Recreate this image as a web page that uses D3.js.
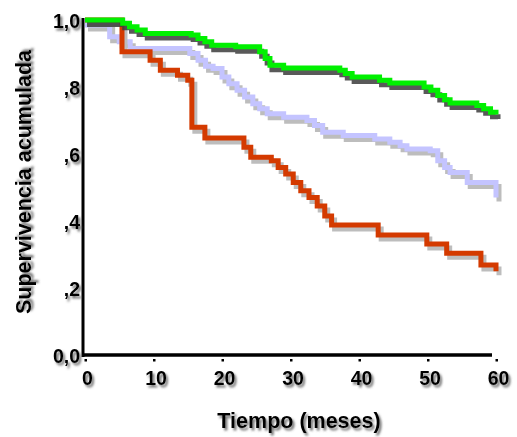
<!DOCTYPE html>
<html>
<head>
<meta charset="utf-8">
<script src="https://cdn.jsdelivr.net/npm/d3@7"></script>
<style>
  html, body { margin: 0; padding: 0; background: #fff; }
  svg { display: block; }
  text { font-family: "Liberation Sans", Arial, sans-serif; font-weight: bold; }
</style>
</head>
<body>
<svg id="chart" width="517" height="437"></svg>
<script>
// ---- data ----
const xTicks = [0, 10, 20, 30, 40, 50, 60];
const yTicks = [0, 0.2, 0.4, 0.6, 0.8, 1.0];
const yTickLabels = ["0,0", ",2", ",4", ",6", ",8", "1,0"];
const xTitle = "Tiempo (meses)";
const yTitle = "Supervivencia acumulada";

// Kaplan-Meier step curves: [time (months), cumulative survival]
const greenTimes = [0, 5.5, 6.5, 7.6, 8.8, 15.5, 16.5, 17.5, 18.5, 22, 25.5, 26.3, 27, 29, 37.2, 38, 39, 43, 44.5, 49.5, 50.5, 51.5, 52.5, 53.3, 57.2, 58.2, 59.2, 60];
const greenSurv  = [1.0, 0.99, 0.98, 0.97, 0.96, 0.955, 0.945, 0.935, 0.925, 0.92, 0.905, 0.885, 0.865, 0.857, 0.85, 0.84, 0.83, 0.82, 0.812, 0.80, 0.79, 0.775, 0.762, 0.752, 0.745, 0.735, 0.725, 0.718];

const lavTimes = [0, 3.6, 5, 6.6, 15.3, 16.5, 17.6, 18.7, 20, 21, 22.2, 23.3, 24.5, 25.5, 26.6, 29, 32.4, 33.5, 34.7, 37.7, 42.3, 44.5, 46, 47, 50.4, 51.5, 52.5, 53.3, 55.8, 60];
const lavSurv  = [0.985, 0.95, 0.935, 0.915, 0.90, 0.88, 0.862, 0.855, 0.83, 0.81, 0.79, 0.77, 0.75, 0.735, 0.72, 0.71, 0.70, 0.685, 0.665, 0.655, 0.645, 0.635, 0.625, 0.615, 0.61, 0.58, 0.56, 0.545, 0.515, 0.47];

const redTimes = [0, 5.4, 9.5, 11, 13.5, 15, 15.6, 17.5, 23.2, 24.2, 27.2, 28.2, 29.3, 30.4, 31.5, 32.7, 33.9, 35, 36, 42.8, 49.9, 52.8, 57.8, 60];
const redSurv  = [1.0, 0.905, 0.88, 0.85, 0.835, 0.82, 0.68, 0.648, 0.62, 0.59, 0.58, 0.56, 0.54, 0.515, 0.49, 0.47, 0.445, 0.415, 0.388, 0.358, 0.331, 0.304, 0.269, 0.25];

const series = [
  { name: "lavanda", times: lavTimes, surv: lavSurv, color: "#c4c4ff", shadow: "#bdbdbd" },
  { name: "rojo", times: redTimes, surv: redSurv, color: "#d43a00", shadow: "#bdbdbd" },
  { name: "verde", times: greenTimes, surv: greenSurv, color: "#00f000", shadow: "#3c3c3c" }
];

// ---- layout ----
const svg = d3.select("#chart");
const x = d3.scaleLinear().domain([0, 60]).range([85, 496]);
const y = d3.scaleLinear().domain([0, 1]).range([355, 20]);

const defs = svg.append("defs");
const f = defs.append("filter").attr("id", "tshadow")
  .attr("x", "-20%").attr("y", "-20%").attr("width", "140%").attr("height", "140%");
f.append("feDropShadow").attr("dx", 2).attr("dy", 2.5).attr("stdDeviation", 1.1)
  .attr("flood-color", "#555").attr("flood-opacity", 0.8);

const line = d3.line().x(d => x(d[0])).y(d => y(d[1])).curve(d3.curveStepAfter);

// curves
series.forEach(s => {
  const pts = s.times.map((t, i) => [t, s.surv[i]]);
  svg.append("path").attr("d", line(pts))
    .attr("fill", "none").attr("stroke", s.shadow).attr("stroke-width", 5)
    .attr("stroke-opacity", s.name === "verde" ? 0.85 : 1)
    .attr("transform", s.name === "verde" ? "translate(2,4.5)" : "translate(3,4)");
  svg.append("path").attr("d", line(pts))
    .attr("fill", "none").attr("stroke", s.color).attr("stroke-width", 5);
});

// axes lines
svg.append("line").attr("x1", 83).attr("x2", 83).attr("y1", 18).attr("y2", 357)
  .attr("stroke", "#000").attr("stroke-width", 3);
svg.append("line").attr("x1", 82).attr("x2", 492).attr("y1", 355).attr("y2", 355)
  .attr("stroke", "#000").attr("stroke-width", 3.5);

// x axis via d3.axisBottom
const xAxis = d3.axisBottom(x).tickValues(xTicks).tickSize(0).tickPadding(0).tickFormat(d3.format("d"));
const gx = svg.append("g").attr("transform", "translate(0,355)").call(xAxis);
gx.select(".domain").remove();
gx.selectAll(".tick").append("rect").attr("x", -1).attr("y", 4).attr("width", 2.5).attr("height", 2.5).attr("fill", "#000");
gx.selectAll(".tick text")
  .attr("y", 30).attr("dy", 0).attr("x", 2)
  .attr("fill", "#000").attr("font-size", 19.5)
  .attr("font-family", "Liberation Sans, Arial, sans-serif").attr("font-weight", "bold")
  .attr("filter", "url(#tshadow)");

// y axis via d3.axisLeft
const yAxis = d3.axisLeft(y).tickValues(yTicks).tickSize(0).tickPadding(3)
  .tickFormat((d, i) => yTickLabels[i]);
const gy = svg.append("g").attr("transform", "translate(83,0)").call(yAxis);
gy.select(".domain").remove();
gy.selectAll(".tick text")
  .attr("dy", 7).attr("fill", "#000").attr("font-size", 19.5)
  .attr("font-family", "Liberation Sans, Arial, sans-serif").attr("font-weight", "bold")
  .attr("filter", "url(#tshadow)");

// titles
svg.append("text").attr("x", 299).attr("y", 428).attr("text-anchor", "middle")
  .attr("font-size", 21.5).attr("fill", "#000").attr("filter", "url(#tshadow)").text(xTitle);
svg.append("text").attr("transform", "translate(31,182) rotate(-90)").attr("text-anchor", "middle")
  .attr("font-size", 21.5).attr("fill", "#000").attr("filter", "url(#tshadow)").text(yTitle);
</script>
</body>
</html>
